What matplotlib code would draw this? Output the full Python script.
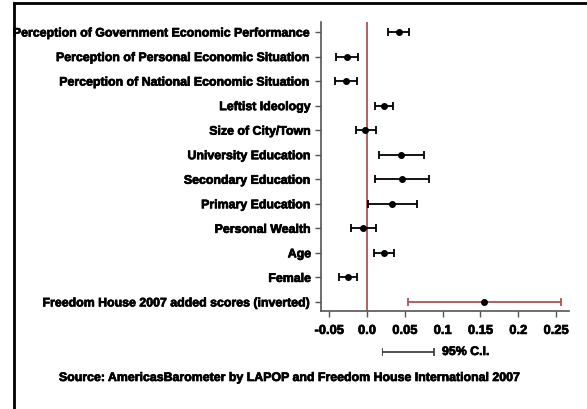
import matplotlib
matplotlib.use('Agg')
import matplotlib.pyplot as plt
from matplotlib.lines import Line2D
import matplotlib.patheffects as pe

plt.rcParams['font.family'] = ['Liberation Sans', 'DejaVu Sans']
plt.rcParams['font.weight'] = 'bold'

labels = [
    'Perception of Government Economic Performance',
    'Perception of Personal Economic Situation',
    'Perception of National Economic Situation',
    'Leftist Ideology',
    'Size of City/Town',
    'University Education',
    'Secondary Education',
    'Primary Education',
    'Personal Wealth',
    'Age',
    'Female',
    'Freedom House 2007 added scores (inverted)',
]
coef = [0.042, -0.026, -0.028, 0.0225, -0.002, 0.0454, 0.046, 0.0326, -0.005, 0.0225, -0.0256, 0.155]
ci_low = [0.028, -0.041, -0.042, 0.010, -0.015, 0.016, 0.011, 0.001, -0.021, 0.009, -0.0375, 0.054]
ci_high = [0.0556, -0.012, -0.013, 0.035, 0.012, 0.075, 0.082, 0.066, 0.012, 0.036, -0.0137, 0.257]

xticks = [-0.05, 0.0, 0.05, 0.1, 0.15, 0.2, 0.25]
xticklabels = ['-0.05', '0.0', '0.05', '0.1', '0.15', '0.2', '0.25']

red = '#a85656'
fs = 8.9
heavy = [pe.withStroke(linewidth=0.5, foreground='black')]

fig = plt.figure(figsize=(5.87, 4.10), dpi=100)
ax = fig.add_axes([0.5468, 0.239, 0.4225, 0.705])

ax.axvline(0, color=red, lw=1.3, zorder=1)

for i, (c, lo, hi) in enumerate(zip(coef, ci_low, ci_high)):
    col = red if i == len(coef) - 1 else 'black'
    ax.errorbar([c], [i], xerr=[[c - lo], [hi - c]], fmt='none',
                ecolor=col, elinewidth=1.3, capsize=3, capthick=1.3, zorder=2)
    ax.plot([c], [i], 'o', color='black', ms=4, zorder=3)

ax.set_xlim(-0.0608, 0.267)
ax.set_ylim(11.37, -0.41)
ax.set_yticks(range(len(labels)))
ax.set_yticklabels(labels, fontsize=fs, fontweight='bold')
ax.set_xticks(xticks)
ax.set_xticklabels(xticklabels, fontsize=9.3, fontweight='bold')
for t in ax.get_xticklabels() + ax.get_yticklabels():
    t.set_path_effects(heavy)
for s in ['top', 'right']:
    ax.spines[s].set_visible(False)
for s in ['left', 'bottom']:
    ax.spines[s].set_color('#555555')
    ax.spines[s].set_linewidth(1.2)
ax.tick_params(axis='both', direction='out', length=4, width=1, color='#555555', pad=3)
ax.tick_params(axis='x', pad=6)

# legend key for the confidence interval
lax = fig.add_axes([382 / 587, 1 - 358.5 / 410, 52 / 587, 11 / 410])
lax.errorbar([0.5], [0], xerr=[0.5], fmt='none', ecolor='#333333',
             elinewidth=1.2, capsize=3, capthick=1.2)
lax.set_xlim(0, 1)
lax.set_ylim(-1, 1)
lax.axis('off')
fig.text(442 / 587, 1 - 353 / 410, '95% C.I.', fontsize=fs, fontweight='bold',
         va='center', path_effects=heavy)

fig.text(291 / 587, 1 - 379 / 410,
         'Source: AmericasBarometer by LAPOP and Freedom House International 2007',
         fontsize=fs, fontweight='bold', ha='center', va='center', path_effects=heavy)

# frame around the chart
fig.add_artist(Line2D([14 / 587, 1.0], [1 - 3.5 / 410, 1 - 3.5 / 410], color='black', lw=2))
fig.add_artist(Line2D([14 / 587, 14 / 587], [0.0, 1 - 3.5 / 410], color='black', lw=2))

fig.savefig('out.png', dpi=100)
